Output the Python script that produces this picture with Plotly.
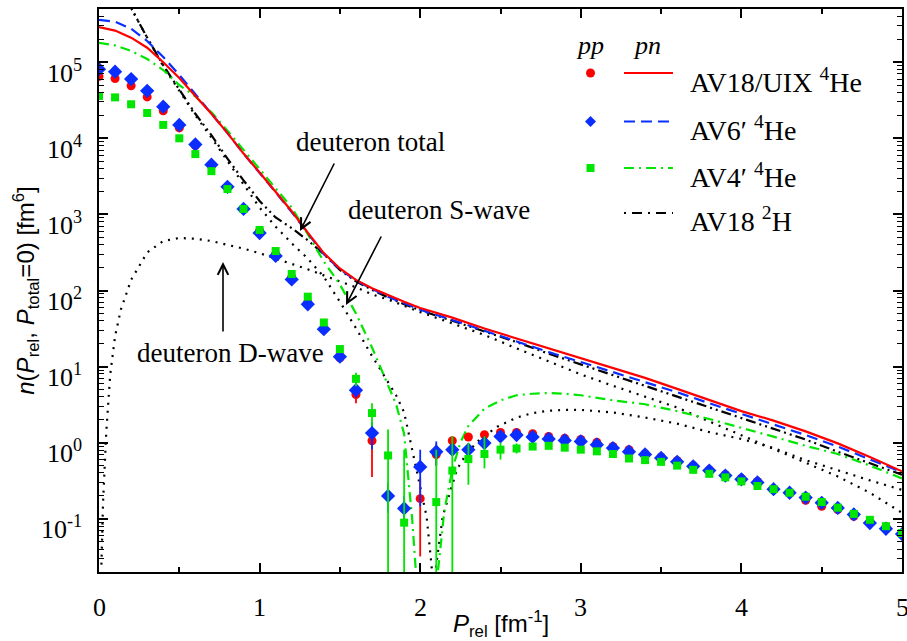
import plotly.graph_objects as go

# ---------------- data ----------------
p_pts = [round(0.1 * i, 1) for i in range(51)]

pp_av18 = [6.5e4, 6.1e4, 4.9e4, 3.5e4, 2.3e4, 1.37e4, 8.0e3, 4.4e3, 2.3e3, 1.18e3,
           610, 300, 150, 70, 31, 13, 4.3, 1.06, None, None,
           0.184, 0.70, 1.06, 1.19, 1.27, 1.36, 1.36, 1.31, 1.21, 1.14,
           1.10, 1.01, 0.89, 0.81, 0.72, 0.65, 0.58, 0.50, 0.44, 0.38,
           0.34, 0.31, 0.245, 0.22, 0.175, 0.146, 0.132, 0.108, 0.09, 0.078, 0.063]
pp_av6 = [8.1e4, 7.5e4, 6.0e4, 4.2e4, 2.6e4, 1.5e4, 8.3e3, 4.5e3, 2.3e3, 1.18e3,
          570, 285, 140, 66, 31, 13.5, 4.9, 1.34, 0.2, 0.137,
          0.48, 0.76, 0.81, 0.81, 0.99, 1.21, 1.26, 1.19, 1.12, 1.07,
          1.04, 0.94, 0.85, 0.76, 0.70, 0.63, 0.56, 0.49, 0.43, 0.37,
          0.33, 0.30, 0.245, 0.22, 0.19, 0.162, 0.139, 0.114, 0.088, 0.074, 0.063]
pp_av4 = [3.6e4, 3.45e4, 2.8e4, 2.15e4, 1.5e4, 1.0e4, 6.2e3, 3.7e3, 2.15e3, 1.18e3,
          625, 330, 165, 83, 38, 17, 6.9, 2.45, 0.68, 0.089,
          None, 0.166, 0.43, 0.61, 0.71, 0.81, 0.84, 0.89, 0.91, 0.86,
          0.81, 0.77, 0.71, 0.62, 0.59, 0.56, 0.50, 0.44, 0.39, 0.35,
          0.31, 0.27, 0.245, 0.22, 0.195, 0.166, 0.14, 0.116, 0.097, 0.08, 0.065]

# error bars: x position, lower bound, upper bound
err_av18_x = [1.6, 1.7, 2.0, 2.1]
err_av18_lo = [3.3, 0.355, 0.032, 0.5]
err_av18_hi = [5.5, 1.8, 0.34, 0.95]
err_av6_x = [1.6, 1.7, 1.8, 1.9, 2.0, 2.1]
err_av6_lo = [3.9, 0.82, 0.12, 0.08, 0.145, 0.5]
err_av6_hi = [6.0, 1.9, 0.3, 0.2, 0.81, 1.04]
err_av4_x = [1.6, 1.7, 1.8, 1.9, 2.1, 2.2, 2.3, 2.4, 2.5, 2.6]
err_av4_lo = [5.5, 1.64, 0.001, 0.001, 0.001, 0.001, 0.28, 0.46, 0.6, 0.72]
err_av4_hi = [8.3, 3.3, 1.49, 0.81, 0.81, 1.21, 0.99, 1.21, 1.0, 0.98]

p_line = [0, 0.1, 0.2, 0.3, 0.4, 0.5, 0.6, 0.7, 0.8, 0.9, 1.0, 1.1, 1.2, 1.3, 1.4,
          1.5, 1.6, 1.7, 1.8, 1.9, 2.0, 2.2, 2.4, 2.6, 2.8, 3.0, 3.2, 3.4, 3.6,
          3.8, 4.0, 4.2, 4.4, 4.6, 4.8, 5.0]
pn_av18 = [2.9e5, 2.6e5, 2.1e5, 1.55e5, 1.0e5, 6.2e4, 3.6e4, 2.1e4, 1.17e4, 6.3e3,
           3.55e3, 2.0e3, 1.1e3, 575, 310, 195, 138, 107, 87, 71, 59, 44, 31.6,
           23.4, 17.4, 12.9, 9.5, 7.1, 5.1, 3.6, 2.6, 1.95, 1.41, 0.98, 0.65, 0.42]
pn_av6 = [3.6e5, 3.4e5, 2.75e5, 1.9e5, 1.17e5, 6.8e4, 3.8e4, 2.14e4, 1.17e4, 6.3e3,
          3.55e3, 1.95e3, 1.07e3, 560, 300, 190, 135, 105, 83, 68, 56, 41, 29.5,
          21.4, 15.5, 11.5, 8.5, 6.3, 4.6, 3.3, 2.4, 1.74, 1.26, 0.89, 0.60, 0.41]

p_av4 = [0, 0.1, 0.2, 0.3, 0.4, 0.5, 0.6, 0.7, 0.8, 0.9, 1.0, 1.1, 1.2, 1.3, 1.4,
         1.5, 1.6, 1.7, 1.8, 1.85, 1.9, 1.95, 1.98, 2.1, 2.15, 2.2, 2.25, 2.3,
         2.4, 2.5, 2.6, 2.7, 2.8, 2.9, 3.0, 3.2, 3.4, 3.6, 3.8, 4.0, 4.2, 4.4,
         4.6, 4.8, 5.0]
pn_av4 = [1.8e5, 1.66e5, 1.41e5, 1.1e5, 7.9e4, 5.0e4, 3.55e4, 2.2e4, 1.26e4, 7.1e3,
          4.0e3, 2.24e3, 1.23e3, 550, 240, 120, 50, 17.8, 5.6, 3.2, 1.3, 0.1,
          0.0126, 0.0126, 0.126, 0.45, 1.0, 1.66, 2.8, 3.6, 4.2, 4.4, 4.5, 4.4,
          4.2, 3.6, 3.2, 2.6, 2.05, 1.58, 1.2, 0.91, 0.71, 0.50, 0.34]

p_deut = [0.1, 0.2, 0.3, 0.4, 0.5, 0.6, 0.7, 0.8, 0.9, 1.0, 1.1, 1.2, 1.3, 1.4,
          1.5, 1.6, 1.7, 1.8, 1.9, 2.0, 2.2, 2.4, 2.6, 2.8, 3.0, 3.2, 3.4, 3.6,
          3.8, 4.0, 4.2, 4.4, 4.6, 4.8, 5.0]
deut_total = [1.26e6, 5.2e5, 2.1e5, 9.1e4, 4.3e4, 2.1e4, 1.1e4, 5.4e3, 2.8e3, 1.5e3,
              910, 660, 457, 300, 186, 132, 102, 81, 66, 55, 40, 29, 21, 14.8,
              10.7, 7.8, 5.6, 4.1, 2.95, 2.14, 1.55, 1.1, 0.76, 0.54, 0.38]

p_swave = [0.1, 0.2, 0.3, 0.4, 0.5, 0.6, 0.7, 0.8, 0.9, 1.0, 1.1, 1.2, 1.3, 1.4,
           1.5, 1.6, 1.7, 1.8, 1.85, 1.9, 1.95, 2.0, 2.04, 2.07, 2.085, 2.1, 2.14,
           2.19, 2.23, 2.29, 2.37, 2.48, 2.6, 2.7, 2.8, 2.9, 3.0, 3.2, 3.4, 3.6,
           3.8, 4.0, 4.2, 4.4, 4.6, 4.8, 5.0]
deut_swave = [1.26e6, 5.1e5, 2.1e5, 8.9e4, 4.2e4, 2.0e4, 1.02e4, 5.0e3, 2.45e3, 1.23e3,
              690, 417, 263, 151, 71, 32, 13.8, 6.3, 4.2, 2.5, 0.83, 0.27, 0.107,
              0.025, 0.01, 0.025, 0.107, 0.24, 0.45, 0.73, 1.1, 1.62, 2.14, 2.45,
              2.63, 2.7, 2.7, 2.5, 2.14, 1.78, 1.38, 1.12, 0.85, 0.59, 0.43, 0.32, 0.24]

p_dwave = [0.015, 0.025, 0.045, 0.07, 0.1, 0.136, 0.2, 0.3, 0.4, 0.5, 0.6, 0.7, 0.8,
           0.9, 1.0, 1.1, 1.2, 1.3, 1.4, 1.5, 1.6, 1.7, 1.8, 1.9, 2.0, 2.2, 2.4,
           2.6, 2.8, 3.0, 3.2, 3.4, 3.6, 3.8, 4.0, 4.2, 4.4, 4.6, 4.8, 5.0]
deut_dwave = [0.025, 0.16, 1.35, 7.9, 25, 56, 138, 316, 447, 490, 479, 447, 398, 355,
              309, 263, 224, 190, 158, 132, 110, 89, 76, 63, 52, 37, 26, 17.4, 11.7,
              7.9, 5.6, 4.0, 2.9, 1.9, 1.26, 0.83, 0.55, 0.36, 0.22, 0.12]

x_ticks = [0, 1, 2, 3, 4, 5]
x_ticktext = ["0", "1", "2", "3", "4", "5"]
y_ticks = [0.1, 1, 10, 100, 1000, 1e4, 1e5]
y_exponents = [-1, 0, 1, 2, 3, 4, 5]
y_ticktext = ["10<sup>-1</sup>", "10<sup>0</sup>", "10<sup>1</sup>", "10<sup>2</sup>",
              "10<sup>3</sup>", "10<sup>4</sup>", "10<sup>5</sup>"]

legend_labels = ["AV18/UIX <sup>4</sup>He", "AV6\u2032 <sup>4</sup>He",
                 "AV4\u2032 <sup>4</sup>He", "AV18 <sup>2</sup>H"]

RED, BLUE, GREEN, BLACK = "#ff0000", "#0a2eff", "#00e600", "#000000"
SERIF = "Liberation Serif"
SANS = "Liberation Sans"


def err_arrays(vals, ex, elo, ehi):
    plus, minus = [], []
    for x, v in zip(p_pts, vals):
        if v is not None and x in ex:
            k = ex.index(x)
            plus.append(ehi[k] - v)
            minus.append(v - elo[k])
        else:
            plus.append(0)
            minus.append(0)
    return plus, minus


fig = go.Figure()

# ---------------- pn lines ----------------
fig.add_trace(go.Scatter(x=p_dwave, y=deut_dwave, mode="lines",
                         line=dict(color=BLACK, width=2.2, dash="2px,6px")))
fig.add_trace(go.Scatter(x=p_swave, y=deut_swave, mode="lines",
                         line=dict(color=BLACK, width=2.2, dash="2px,6px")))
fig.add_trace(go.Scatter(x=p_deut, y=deut_total, mode="lines",
                         line=dict(color=BLACK, width=2.2, dash="10px,4px,2px,4px,2px,4px")))
fig.add_trace(go.Scatter(x=p_av4, y=pn_av4, mode="lines",
                         line=dict(color=GREEN, width=2.2, dash="10px,5px,2px,5px")))
fig.add_trace(go.Scatter(x=p_line, y=pn_av6, mode="lines",
                         line=dict(color=BLUE, width=2.2, dash="11px,6px")))
fig.add_trace(go.Scatter(x=p_line, y=pn_av18, mode="lines",
                         line=dict(color=RED, width=2.2)))

# ---------------- pp points ----------------
for vals, ex, elo, ehi, col, sym, size in [
        (pp_av18, err_av18_x, err_av18_lo, err_av18_hi, RED, "circle", 9),
        (pp_av6, err_av6_x, err_av6_lo, err_av6_hi, BLUE, "diamond", 11),
        (pp_av4, err_av4_x, err_av4_lo, err_av4_hi, GREEN, "square", 8)]:
    plus, minus = err_arrays(vals, ex, elo, ehi)
    fig.add_trace(go.Scatter(
        x=p_pts, y=vals, mode="markers",
        marker=dict(symbol=sym, color=col, size=size, line=dict(width=0)),
        error_y=dict(type="data", symmetric=False, array=plus, arrayminus=minus,
                     color=col, thickness=1.8, width=0)))

# ---------------- manual legend ----------------
L, B, W, H = 99, 69, 803, 563


def px(xp):
    return (xp - L) / W


def py(yp):
    return (641 - B - yp) / H


shapes = []
annotations = []
rows_y = [73, 121.5, 168, 213]
marker_x = 590.5
line_x0, line_x1 = 624, 673
line_styles = [dict(color=RED, width=2.2), dict(color=BLUE, width=2.2, dash="11px,6px"),
               dict(color=GREEN, width=2.2, dash="10px,5px,2px,5px"),
               dict(color=BLACK, width=2.2, dash="2px,6px,10px,6px")]
# marker samples
shapes.append(dict(type="circle", xref="paper", yref="paper", xsizemode="pixel",
                   ysizemode="pixel", xanchor=px(marker_x), yanchor=py(rows_y[0]),
                   x0=-4.5, x1=4.5, y0=-4.5, y1=4.5, fillcolor=RED, line=dict(width=0)))
shapes.append(dict(type="path", xref="paper", yref="paper", xsizemode="pixel",
                   ysizemode="pixel", xanchor=px(marker_x), yanchor=py(rows_y[1]),
                   path="M 0,5.5 L 5.5,0 L 0,-5.5 L -5.5,0 Z", fillcolor=BLUE,
                   line=dict(width=0)))
shapes.append(dict(type="rect", xref="paper", yref="paper", xsizemode="pixel",
                   ysizemode="pixel", xanchor=px(marker_x), yanchor=py(rows_y[2]),
                   x0=-4, x1=4, y0=-4, y1=4, fillcolor=GREEN, line=dict(width=0)))
for yy, ls, lab in zip(rows_y, line_styles, legend_labels):
    shapes.append(dict(type="line", xref="paper", yref="paper",
                       x0=px(line_x0), x1=px(line_x1), y0=py(yy), y1=py(yy), line=ls))
    annotations.append(dict(xref="paper", yref="paper", x=px(688), y=py(yy + 7),
                            xanchor="left", yanchor="middle", showarrow=False,
                            text=lab, font=dict(family=SERIF, size=28, color=BLACK)))
for txt, cx in [("<i>pp</i>", 590), ("<i>pn</i>", 647)]:
    annotations.append(dict(xref="paper", yref="paper", x=px(cx), y=py(45),
                            xanchor="center", yanchor="middle", showarrow=False,
                            text=txt, font=dict(family=SERIF, size=26, color=BLACK)))

# ---------------- tick labels (placed like the original) ----------------
for e, t in zip(y_exponents, y_ticktext):
    annotations.append(dict(xref="paper", yref="y", x=0, y=e, xanchor="right",
                            yanchor="middle", xshift=-15, yshift=-9, showarrow=False,
                            text=t, font=dict(family=SERIF, size=26, color=BLACK)))
for v, t in zip(x_ticks, x_ticktext):
    annotations.append(dict(xref="x", yref="paper", x=v, y=0, xanchor="center",
                            yanchor="middle", yshift=-35, showarrow=False,
                            text=t, font=dict(family=SERIF, size=26, color=BLACK)))

# ---------------- axis titles ----------------
annotations.append(dict(xref="paper", yref="paper", x=px(501), y=py(624),
                        xanchor="center", yanchor="middle", showarrow=False,
                        text="<i>P</i><sub>rel</sub> [fm<sup>-1</sup>]",
                        font=dict(family=SANS, size=24, color=BLACK)))

# ---------------- text labels with arrows ----------------
for text, cx, cy in [("deuteron total", 370, 142), ("deuteron S-wave", 439, 210),
                     ("deuteron D-wave", 230, 353)]:
    annotations.append(dict(xref="paper", yref="paper", x=px(cx), y=py(cy), showarrow=False,
                            xanchor="center", yanchor="middle",
                            text=text, font=dict(family=SERIF, size=27, color=BLACK)))
for tipx, tipy, tailx, taily in [(300, 231, 335, 162), (346, 305, 382, 235),
                                 (223, 262, 223, 333)]:
    annotations.append(dict(xref="paper", yref="paper", x=px(tipx), y=py(tipy),
                            ax=tailx - tipx, ay=taily - tipy, text="", showarrow=True,
                            arrowhead=5, arrowsize=1.3, arrowwidth=1.6, arrowcolor=BLACK,
                            standoff=0, startstandoff=0))

fig.update_layout(
    width=907, height=641,
    margin=dict(l=L, r=907 - L - W, t=641 - B - H, b=B, autoexpand=False),
    paper_bgcolor="white", plot_bgcolor="white",
    showlegend=False,
    shapes=shapes, annotations=annotations,
    xaxis=dict(range=[0, 5], tickvals=x_ticks, showticklabels=False, ticks="inside",
               ticklen=9, tickwidth=1.5,
               tickcolor=BLACK, mirror="ticks", showline=True, linewidth=2, linecolor=BLACK,
               showgrid=False, zeroline=False, automargin=False,
               minor=dict(dtick=0.5, ticks="inside", ticklen=5, tickwidth=1.5,
                          tickcolor=BLACK, showgrid=False)),
    yaxis=dict(type="log", range=[-1.699, 5.699], tickvals=y_ticks, showticklabels=False,
               ticks="inside", ticklen=9, tickwidth=1.5, tickcolor=BLACK, mirror="ticks",
               showline=True, linewidth=2, linecolor=BLACK, showgrid=False, zeroline=False,
               automargin=False,
               minor=dict(dtick="D1", ticks="inside", ticklen=5, tickwidth=1.2,
                          tickcolor=BLACK, showgrid=False),
               title=dict(text="<i>n</i>(<i>P</i><sub>rel</sub>, <i>P</i><sub>total</sub>=0) [fm<sup>6</sup>]",
                          font=dict(family=SANS, size=24, color=BLACK), standoff=56)),
)

fig.write_html("out.html")
